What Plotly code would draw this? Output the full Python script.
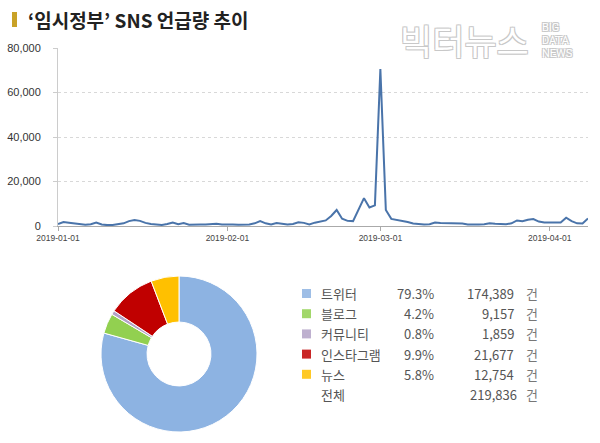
import plotly.graph_objects as go
import pandas as pd

# ---- data ----
start_date = "2019-01-01"
mentions = [
    900, 1800, 1500, 1200, 1200, 600, 800, 1600, 700, 400,
    500, 700, 1200, 2200, 2700, 2300, 1400, 900, 600, 500,
    900, 1600, 800, 1300, 600, 500, 700, 700, 900, 1000,
    700,                                   # Jan
    800, 700, 600, 600, 700, 1200, 2200, 1200, 700, 1300,
    1000, 700, 900, 1700, 1400, 700, 1500, 2000, 2500, 4500,
    7200, 3300, 2300, 2200, 7300, 12500, 8300, 9300,   # Feb
    70500, 7200, 3200, 2800, 2300, 1800, 1100, 800, 700, 800,
    1600, 1400, 1300, 1300, 1300, 1100, 700, 600, 700, 800,
    1200, 1000, 900, 800, 1200, 2500, 2100, 2800, 3100, 2000,
    1600,                                  # Mar
    1700, 1500, 1600, 3700, 2200, 1200, 1100, 3400      # Apr
]
dates = pd.date_range(start_date, periods=len(mentions), freq="D")

x_tick_vals = ["2019-01-01", "2019-02-01", "2019-03-01", "2019-04-01"]
y_tick_vals = [0, 20000, 40000, 60000, 80000]

channels = ["트위터", "블로그", "커뮤니티", "인스타그램", "뉴스"]
counts = [174389, 9157, 1859, 21677, 12754]
shares = ["79.3%", "4.2%", "0.8%", "9.9%", "5.8%"]
colors = ["#8db3e2", "#92d050", "#b3a2c7", "#c00000", "#ffc000"]
total_label = "전체"
total_count = 219836
unit = "건"

title_text = "‘임시정부’ SNS 언급량 추이"

KR = "Noto Sans CJK KR"
W, H = 600, 443

def px(x):
    return x / W

def py(y):
    return (H - y) / H

fig = go.Figure()

fig.add_trace(go.Scatter(
    x=dates, y=mentions, mode="lines",
    line=dict(color="#4a74aa", width=2),
    hoverinfo="x+y", showlegend=False,
    xaxis="x", yaxis="y"))

fig.add_trace(go.Pie(
    labels=channels, values=counts, sort=False, direction="clockwise",
    rotation=0, hole=0.41, textinfo="none", showlegend=False,
    marker=dict(colors=colors, line=dict(color="white", width=1)),
    domain=dict(x=[px(101), px(257)], y=[py(432), py(276)])))

annotations = []
shapes = []

# title
shapes.append(dict(type="rect", xref="paper", yref="paper",
                   x0=px(12), x1=px(17), y0=py(27), y1=py(12),
                   fillcolor="#c9a227", line=dict(width=0)))
annotations.append(dict(text=title_text, xref="paper", yref="paper",
                        x=px(26), y=py(19), xanchor="left", yanchor="middle",
                        showarrow=False,
                        font=dict(family=KR, size=19, color="#222", weight="bold")))

# watermark
outline = ("1px 1px 0 #c8c8c8, -1px -1px 0 #c8c8c8, "
           "1px -1px 0 #c8c8c8, -1px 1px 0 #c8c8c8")
annotations.append(dict(text="빅터뉴스", xref="paper", yref="paper",
                        x=px(398), y=py(40), xanchor="left", yanchor="middle",
                        showarrow=False,
                        font=dict(family=KR, size=35, color="white", shadow=outline)))
for i, word in enumerate(["BIG", "DATA", "NEWS"]):
    annotations.append(dict(text=word, xref="paper", yref="paper",
                            x=px(540), y=py(28 + 12.5 * i), xanchor="left",
                            yanchor="middle", showarrow=False,
                            font=dict(family="Roboto", size=11, color="white",
                                      shadow=outline)))

# legend table
row_y0, row_dy = 293.5, 20.2
for i, (name, cnt, sh, col) in enumerate(zip(channels, counts, shares, colors)):
    yy = row_y0 + row_dy * i
    shapes.append(dict(type="rect", xref="paper", yref="paper",
                       x0=px(302), x1=px(311), y0=py(yy + 4.5), y1=py(yy - 4.5),
                       fillcolor=col, line=dict(width=0), opacity=0.85))
    annotations.append(dict(text=name, xref="paper", yref="paper",
                            x=px(319), y=py(yy), xanchor="left", yanchor="middle",
                            showarrow=False, font=dict(family=KR, size=13, color="#555")))
    annotations.append(dict(text=sh, xref="paper", yref="paper",
                            x=px(436), y=py(yy), xanchor="right", yanchor="middle",
                            showarrow=False, font=dict(family=KR, size=13, color="#555")))
    annotations.append(dict(text=f"{cnt:,}", xref="paper", yref="paper",
                            x=px(516), y=py(yy), xanchor="right", yanchor="middle",
                            showarrow=False, font=dict(family=KR, size=13, color="#555")))
    annotations.append(dict(text=unit, xref="paper", yref="paper",
                            x=px(524), y=py(yy), xanchor="left", yanchor="middle",
                            showarrow=False, font=dict(family=KR, size=13, color="#777")))
yy = row_y0 + row_dy * len(channels)
annotations.append(dict(text=total_label, xref="paper", yref="paper",
                        x=px(319), y=py(yy), xanchor="left", yanchor="middle",
                        showarrow=False, font=dict(family=KR, size=13, color="#555")))
annotations.append(dict(text=f"{total_count:,}", xref="paper", yref="paper",
                        x=px(519), y=py(yy), xanchor="right", yanchor="middle",
                        showarrow=False, font=dict(family=KR, size=13, color="#555")))
annotations.append(dict(text=unit, xref="paper", yref="paper",
                        x=px(524), y=py(yy), xanchor="left", yanchor="middle",
                        showarrow=False, font=dict(family=KR, size=13, color="#777")))

fig.update_layout(
    width=W, height=H, margin=dict(l=0, r=0, t=0, b=0, autoexpand=False),
    paper_bgcolor="white", plot_bgcolor="white",
    shapes=shapes, annotations=annotations,
    xaxis=dict(domain=[px(58), px(588)],
               range=[dates[0], dates[-1]],
               tickvals=x_tick_vals, tickformat="%Y-%m-%d",
               ticks="outside", ticklen=4, tickcolor="#aaa",
               showline=True, linecolor="#aaa", linewidth=1,
               showgrid=False, zeroline=False, automargin=False,
               tickfont=dict(family="Liberation Sans", size=8.5, color="#444"),
               anchor="y"),
    yaxis=dict(domain=[py(226), py(48)], range=[0, 80000],
               tickvals=y_tick_vals, tickformat=",d",
               ticks="outside", ticklen=4, tickcolor="#ccc",
               showline=True, linecolor="#ccc", linewidth=1,
               showgrid=True, gridcolor="#d8d8d8", griddash="dot",
               zeroline=False, ticklabelstandoff=10, automargin=False,
               tickfont=dict(family="Liberation Sans", size=11, color="#333"),
               anchor="x"),
)

fig.write_html("out.html")
